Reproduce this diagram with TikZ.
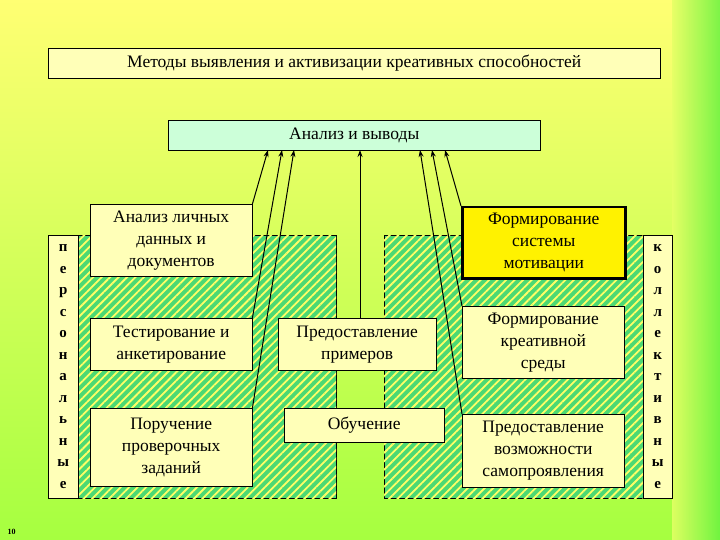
\documentclass[tikz,border=0pt]{standalone}
\usepackage{fontspec}
\setmainfont{Liberation Serif}
\usetikzlibrary{patterns.meta,arrows.meta}
\definecolor{bx}{rgb}{1,1,0.72}
\definecolor{mint}{rgb}{0.8,1,0.85}
\definecolor{hg}{rgb}{0.3,0.85,0.45}
\tikzset{
 box/.style={draw=black,fill=bx,align=center,font=\fontsize{17.5}{22}\selectfont,inner sep=1pt},
 hatch/.style={draw=black,fill=hg,postaction={pattern={Lines[angle=45,distance=6pt,line width=1.8pt]},pattern color=yellow!60!white}},
 strip/.style={draw=black,fill=bx,align=center,font=\fontsize{15}{21.5}\selectfont\bfseries},
 arr/.style={-{Stealth[length=7pt,width=5pt]},line width=1pt}
}
\begin{document}
\begin{tikzpicture}[x=1pt,y=-1pt]
\useasboundingbox (0,0) rectangle (720,540);
\shade[top color={rgb,1:red,1;green,1;blue,0.45},bottom color={rgb,1:red,0.65;green,1;blue,0.25}] (0,0) rectangle (720,540);
\shade[left color={rgb,1:red,0.9;green,1;blue,0.4},right color={rgb,1:red,0.4;green,0.95;blue,0.25},opacity=0.85] (672,0) rectangle (720,540);
\node[box,minimum width=612,minimum height=30,anchor=north west,font=\fontsize{17.5}{20}\selectfont] (title) at (48,48) {Методы выявления и активизации креативных способностей};
\node[box,fill=mint,minimum width=372,minimum height=30,anchor=north west,font=\fontsize{17.5}{20}\selectfont] (an) at (168,120) {Анализ и выводы};
\node[hatch,minimum width=258,minimum height=263,anchor=north west,inner sep=0] (lh) at (78,235) {};
\node[hatch,minimum width=259,minimum height=263,anchor=north west,inner sep=0] (rh) at (384,235) {};
\node[strip,minimum width=30,minimum height=263,anchor=north west,inner sep=0] (pers) at (48,235) {п\\е\\р\\с\\о\\н\\а\\л\\ь\\н\\ы\\е};
\node[strip,minimum width=29,minimum height=263,anchor=north west,inner sep=0] (koll) at (643,235) {к\\о\\л\\л\\е\\к\\т\\и\\в\\н\\ы\\е};
\node[box,minimum width=162,minimum height=72,anchor=north west] (b1) at (90,204) {Анализ личных\\данных и\\документов};
\node[box,minimum width=162,minimum height=52,anchor=north west] (b2) at (90,318) {Тестирование и\\анкетирование};
\node[box,minimum width=162,minimum height=78,anchor=north west] (b3) at (90,408) {Поручение\\проверочных\\заданий};
\node[box,minimum width=158,minimum height=52,anchor=north west] (b4) at (278,318) {Предоставление\\примеров};
\node[box,minimum width=160,minimum height=34,anchor=north west] (b5) at (284,408) {Обучение};
\node[box,fill=yellow,line width=2.5pt,minimum width=163,minimum height=71,anchor=north west] (b6) at (461,206) {Формирование\\системы\\мотивации};
\node[box,minimum width=162,minimum height=72,anchor=north west] (b7) at (462,306) {Формирование\\креативной\\среды};
\node[box,minimum width=162,minimum height=73,anchor=north west] (b8) at (462,414) {Предоставление\\возможности\\самопроявления};
\node[font=\fontsize{8}{9}\selectfont\bfseries,anchor=west] (pg) at (4,532) {10};
\coordinate (t1) at (268,150); \coordinate (t2) at (282,150); \coordinate (t3) at (294,150);
\coordinate (t4) at (360,150);
\coordinate (t5) at (420,150); \coordinate (t6) at (432,150); \coordinate (t7) at (445,150);
\draw[arr] (b1.north east) -- (t1);
\draw[arr] (b2.north east) -- (t2);
\draw[arr] (b3.north east) -- (t3);
\draw[arr] (b4.north -| t4) -- (t4);
\draw[arr] (b8.north west) -- (t5);
\draw[arr] (b7.north west) -- (t6);
\draw[arr] (b6.north west) -- (t7);
\end{tikzpicture}
\end{document}
